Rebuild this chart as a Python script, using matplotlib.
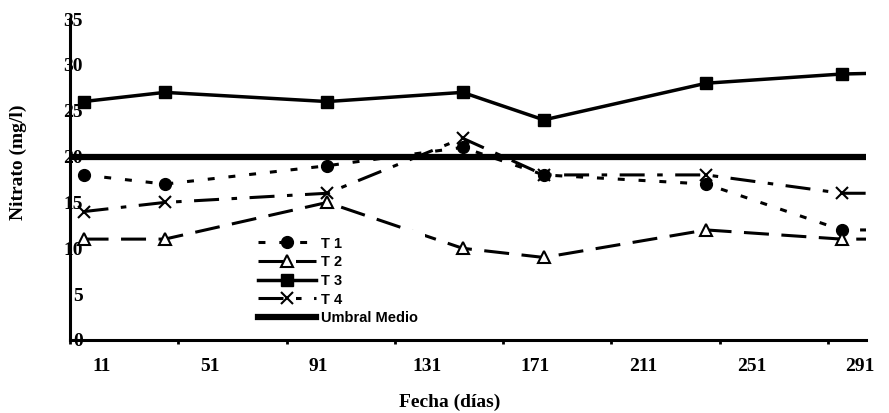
import numpy as np
import matplotlib
matplotlib.use("Agg")
import matplotlib.pyplot as plt
import matplotlib.transforms as mtransforms

# -------- DATOS --------
dias = [16, 46, 106, 156, 186, 246, 296, 326]
t1 = [18, 17, 19, 21, 18, 17, 12, 12]
t2 = [11, 11, 15, 10, 9, 12, 11, 11]
t3 = [26, 27, 26, 27, 24, 28, 29, 29.2]
t4 = [14, 15, 16, 22, 18, 18, 16, 16]
umbral = 20

xticks = [11, 51, 91, 131, 171, 211, 251, 291]
yticks = [0, 5, 10, 15, 20, 25, 30, 35]

plt.rcParams['lines.scale_dashes'] = False

# -------- GRÁFICO --------
fig = plt.figure(figsize=(8.89, 4.13), dpi=100)
ax = fig.add_axes([70 / 889, 1 - 340 / 413, (866 - 70) / 889, (340 - 19) / 413])

ax.plot(dias, t1, color='black', lw=2.2, linestyle=(0, (5, 10)),
        marker='o', ms=8.5, mfc='black', mec='black', label='T 1')
ax.plot(dias, t2, color='black', lw=2.2, linestyle=(0, (18, 9)),
        marker='^', ms=8.5, mfc='white', mec='black', mew=1.5, label='T 2')
ax.plot(dias, t3, color='black', lw=2.5, linestyle='-',
        marker='s', ms=8.5, mfc='black', mec='black', label='T 3')
ax.plot(dias, t4, color='black', lw=2.2, linestyle=(0, (18, 9, 4, 9)),
        marker='x', ms=9, mec='black', mew=1.5, label='T 4')
ax.axhline(umbral, color='black', lw=4.5, label='Umbral Medio')

ax.set_xlim(11, 305)
ax.set_ylim(0, 35)

for s in ['top', 'right']:
    ax.spines[s].set_visible(False)
for s in ['left', 'bottom']:
    ax.spines[s].set_linewidth(2.2)

ax.set_xticks(xticks)
ax.set_xticklabels([str(v) for v in xticks], fontfamily='Liberation Serif',
                   fontweight='bold', fontsize=14)
ax.set_yticks(yticks)
ax.set_yticklabels([str(v) for v in yticks], fontfamily='Liberation Serif',
                   fontweight='bold', fontsize=14)
ax.tick_params(axis='x', direction='out', length=3, width=2, pad=10)
ax.tick_params(axis='y', length=0, pad=0)

# etiquetas desplazadas como en el original
offx = mtransforms.ScaledTranslation(32 / 100, 0, fig.dpi_scale_trans)
for lbl in ax.get_xticklabels():
    lbl.set_transform(lbl.get_transform() + offx)
offy = mtransforms.ScaledTranslation(13 / 100, 0, fig.dpi_scale_trans)
for lbl in ax.get_yticklabels():
    lbl.set_transform(lbl.get_transform() + offy)

fig.text(18 / 889, 1 - 162 / 413, 'Nitrato (mg/l)', rotation=90, ha='center', va='center',
         fontfamily='Liberation Serif', fontweight='bold', fontsize=14)
fig.text(450 / 889, 1 - 402 / 413, 'Fecha (días)', ha='center', va='center',
         fontfamily='Liberation Serif', fontweight='bold', fontsize=14)

leg = ax.legend(loc='upper left', bbox_to_anchor=(251 / 889, 1 - 230 / 413),
                bbox_transform=fig.transFigure, borderaxespad=0, borderpad=0.45,
                handlelength=4.0, handletextpad=0.35, labelspacing=0.32, numpoints=1,
                prop={'family': 'Liberation Sans', 'weight': 'bold', 'size': 10.5},
                frameon=True, fancybox=False)
leg.get_frame().set_facecolor('white')
leg.get_frame().set_edgecolor('none')
leg.get_frame().set_alpha(1)

fig.savefig('out.png', dpi=100)
